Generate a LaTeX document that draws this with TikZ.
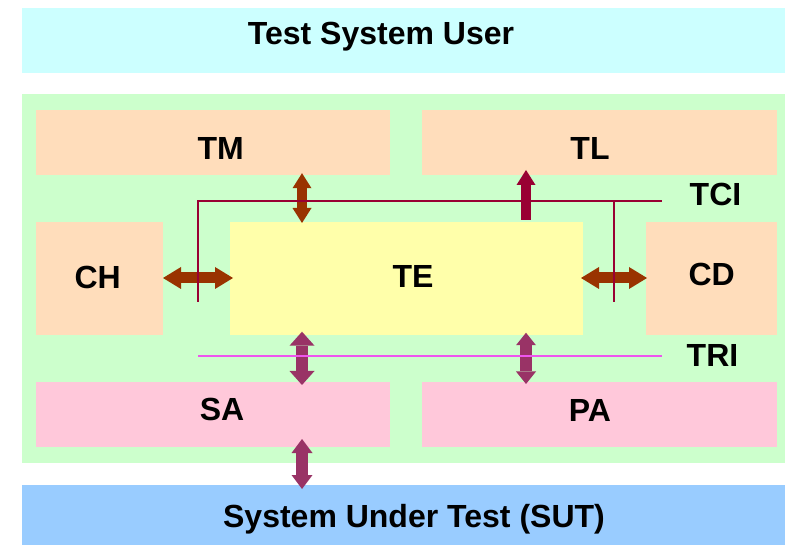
\documentclass[tikz,border=0pt]{standalone}
\usepackage{fontspec}
\setmainfont{Liberation Sans}
\usetikzlibrary{arrows.meta}
\definecolor{cyanbg}{HTML}{CCFFFF}
\definecolor{greenbg}{HTML}{CCFFCC}
\definecolor{peach}{HTML}{FFDDBB}
\definecolor{yellowbg}{HTML}{FFFFAA}
\definecolor{pinkbg}{HTML}{FFC8DA}
\definecolor{bluebg}{HTML}{99CCFF}
\definecolor{brownarr}{HTML}{993300}
\definecolor{crimson}{HTML}{990033}
\definecolor{plum}{HTML}{993366}
\definecolor{trimag}{HTML}{EE55EE}
\begin{document}
\begin{tikzpicture}[x=1pt,y=-1pt,
  box/.style={rectangle,inner sep=0pt,outer sep=0pt,draw=none},
  lbl/.style={font=\bfseries\fontsize{32}{36}\selectfont,anchor=base,inner sep=0pt},
  dbl/.style n args={4}{draw=#1,line width=#2,
     {Triangle[width=#3,length=#4,line width=0pt]}-{Triangle[width=#3,length=#4,line width=0pt]}},
  sgl/.style n args={4}{draw=#1,line width=#2,
     -{Triangle[width=#3,length=#4,line width=0pt]}},
  tciline/.style={draw=crimson,line width=2pt},
  triline/.style={draw=trimag,line width=2pt}]
\path[use as bounding box] (0,0) rectangle (785,545);

% boxes
\node[box,fill=cyanbg,minimum width=763pt,minimum height=64.7pt] (tsu) at (403.5,40.35) {};
\node[box,fill=greenbg,minimum width=763pt,minimum height=368.7pt] (ts) at (403.5,278.35) {};
\node[box,fill=peach,minimum width=353.5pt,minimum height=64.7pt] (tm) at (212.75,142.35) {};
\node[box,fill=peach,minimum width=355pt,minimum height=64.7pt] (tl) at (599.5,142.35) {};
\node[box,fill=peach,minimum width=127pt,minimum height=112.7pt] (ch) at (99.5,278.35) {};
\node[box,fill=yellowbg,minimum width=353pt,minimum height=112.7pt] (te) at (406.5,278.35) {};
\node[box,fill=peach,minimum width=131pt,minimum height=112.7pt] (cd) at (711.5,278.35) {};
\node[box,fill=pinkbg,minimum width=354pt,minimum height=64.7pt] (sa) at (213,414.35) {};
\node[box,fill=pinkbg,minimum width=355pt,minimum height=64.7pt] (pa) at (599.5,414.35) {};
\node[box,fill=bluebg,minimum width=763pt,minimum height=60pt] (sut) at (403.5,515) {};

% labels
\node[lbl] (tsut) at (381,44.3) {Test System User};
\node[lbl] (tmt) at (220.7,159.3) {TM};
\node[lbl] (tlt) at (590,159.3) {TL};
\node[lbl] (cht) at (97.7,288.3) {CH};
\node[lbl] (tet) at (413,288) {TE};
\node[lbl] (cdt) at (711.7,286) {CD};
\node[lbl] (tcit) at (715.5,205.7) {TCI};
\node[lbl] (trit) at (712.5,366.7) {TRI};
\node[lbl] (sat) at (222,420.5) {SA};
\node[lbl] (pat) at (590,421) {PA};
\node[lbl] (sutt) at (414,527) {System Under Test (SUT)};

% helper coordinates
\coordinate (xa) at (302,0);
\coordinate (xb) at (526,0);
\coordinate (yc) at (0,278);

% arrows
\draw[dbl={brownarr}{10pt}{19pt}{15pt},shorten <=-1.5pt,shorten >=-1pt] (tm.south -| xa) -- (te.north -| xa);
\draw[dbl={brownarr}{11pt}{22pt}{18pt},shorten >=-3pt] (ch.east |- yc) -- (te.west |- yc);
\draw[dbl={brownarr}{11pt}{22pt}{18pt},shorten <=-2pt,shorten >=-1pt] (te.east |- yc) -- (cd.west |- yc);
\draw[sgl={crimson}{10pt}{19pt}{15pt},shorten <=2pt,shorten >=-4.7pt] (te.north -| xb) -- (tl.south -| xb);
\draw[dbl={plum}{12.5pt}{25pt}{14pt},shorten <=-3pt,shorten >=-3pt] (te.south -| xa) -- (sa.north -| xa);
\draw[dbl={plum}{12.5pt}{20pt}{12.5pt},shorten <=-2pt,shorten >=-2pt] (te.south -| xb) -- (pa.north -| xb);
\draw[dbl={plum}{12pt}{21pt}{14pt},shorten <=-7.7pt,shorten >=-4pt] (sa.south -| xa) -- (sut.north -| xa);

% interface lines
\coordinate (tcia) at (198,302);
\coordinate (tcib) at (662,200.7);
\coordinate (tcic) at (614,302);
\draw[tciline] (tcia) |- (tcib);
\draw[tciline] (tcic) -- (tcic |- tcib);
\coordinate (tria) at (198,356);
\coordinate (trib) at (662,356);
\draw[triline] (tria) -- (trib);
\end{tikzpicture}
\end{document}
